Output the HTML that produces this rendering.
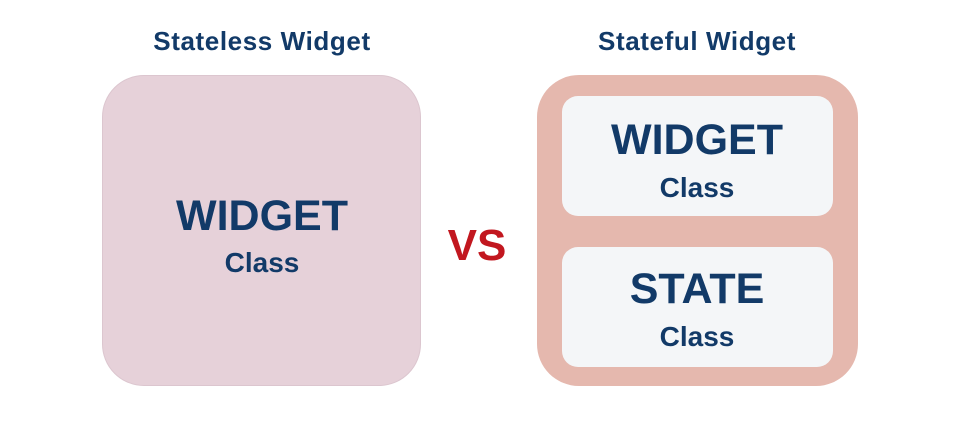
<!DOCTYPE html>
<html><head><style>
body{margin:0;width:958px;height:421px;background:#fff;position:relative;overflow:hidden;font-family:"Liberation Sans",Arial,sans-serif;font-weight:bold;color:#123a68}
.a{position:absolute}
.t{position:absolute;white-space:nowrap;transform:translateX(-50%);line-height:1}
</style></head><body>
<div class="t" style="left:262px;top:28px;font-size:26px;letter-spacing:0.6px">Stateless Widget</div>
<div class="t" style="left:697px;top:28px;font-size:26px;letter-spacing:0.6px">Stateful Widget</div>
<div class="a" style="left:102px;top:75px;width:319px;height:311px;background:#e6d1d9;border:1px solid #dcc6cf;border-radius:42px;box-sizing:border-box"></div>
<div class="t" style="left:262px;top:195px;font-size:43px">WIDGET</div>
<div class="t" style="left:262px;top:249px;font-size:28px">Class</div>
<div class="t" style="left:477px;top:224px;font-size:44px;color:#c2171f">VS</div>
<div class="a" style="left:537px;top:75px;width:321px;height:311px;background:#e5b8ae;border-radius:42px"></div>
<div class="a" style="left:562px;top:96px;width:271px;height:120px;background:#f4f6f8;border-radius:16px"></div>
<div class="a" style="left:562px;top:247px;width:271px;height:120px;background:#f4f6f8;border-radius:16px"></div>
<div class="t" style="left:697px;top:119px;font-size:43px">WIDGET</div>
<div class="t" style="left:697px;top:174px;font-size:28px">Class</div>
<div class="t" style="left:697px;top:268px;font-size:43px">STATE</div>
<div class="t" style="left:697px;top:323px;font-size:28px">Class</div>
</body></html>
